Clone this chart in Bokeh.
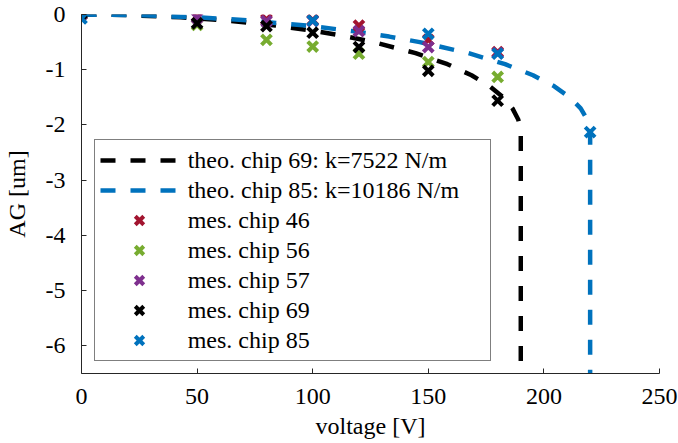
from bokeh.plotting import figure
from bokeh.models import Legend, LegendItem, FixedTicker, Range1d, CustomJSTickFormatter
from bokeh.embed import file_html
from bokeh.resources import INLINE

# theoretical curves
theo69_v = [0, 19.3, 43, 60.3, 83.9, 101.2, 114.9, 126.4, 144.5, 158.3, 168.7, 176.6, 182.4, 186.4, 188.9, 189.8, 190, 190]
theo69_ag = [0, -0.01, -0.05, -0.1, -0.2, -0.3, -0.4, -0.5, -0.7, -0.9, -1.1, -1.3, -1.5, -1.7, -1.9, -2.05, -2.17, -6.5]
theo85_v = [0, 22.4, 49.7, 69.8, 97.2, 117.1, 133.1, 146.3, 167.4, 183.2, 195.3, 204.5, 211.2, 215.9, 218.7, 219.8, 220, 220]
theo85_ag = [0, -0.01, -0.05, -0.1, -0.2, -0.3, -0.4, -0.5, -0.7, -0.9, -1.1, -1.3, -1.5, -1.7, -1.9, -2.05, -2.17, -6.5]

# measurements
chip46_v = [0, 50, 80, 100, 120, 150, 180]
chip46_ag = [0, -0.03, -0.09, -0.1, -0.2, -0.46, -0.68]
chip56_v = [0, 50, 80, 100, 120, 150, 180]
chip56_ag = [0, -0.19, -0.46, -0.58, -0.71, -0.86, -1.13]
chip57_v = [0, 50, 80, 100, 120, 150, 180]
chip57_ag = [0, -0.06, -0.12, -0.12, -0.3, -0.59, -0.7]
chip69_v = [0, 50, 80, 100, 120, 150, 180]
chip69_ag = [0.02, -0.16, -0.21, -0.33, -0.59, -1.02, -1.56]
chip85_v = [0, 100, 150, 180, 220]
chip85_ag = [-0.07, -0.11, -0.35, -0.71, -2.13]

x_ticks = [0, 50, 100, 150, 200, 250]
y_ticks = [-6, -5, -4, -3, -2, -1, 0]

FONT = "Liberation Serif"
FS = "24px"
AXC = "#262626"

p = figure(width=678, height=441, output_backend="svg", toolbar_location=None,
           x_range=Range1d(0, 250), y_range=Range1d(-6.5, 0),
           min_border_left=78, min_border_right=19, min_border_top=14, min_border_bottom=68)
p.xgrid.visible = False
p.ygrid.visible = False
p.outline_line_color = None
p.background_fill_color = "white"
p.border_fill_color = "white"

for ax in (p.xaxis[0], p.yaxis[0]):
    ax.axis_line_color = AXC
    ax.axis_line_width = 1
    ax.major_tick_line_color = AXC
    ax.major_tick_in = 5
    ax.major_tick_out = 0
    ax.minor_tick_line_color = None
    ax.major_label_text_font = FONT
    ax.major_label_text_font_size = FS
    ax.major_label_text_color = "black"
    ax.axis_label_text_font = FONT
    ax.axis_label_text_font_size = FS
    ax.axis_label_text_font_style = "normal"
    ax.axis_label_text_color = "black"
    ax.formatter = CustomJSTickFormatter(code="return tick.toString();")

p.xaxis.ticker = FixedTicker(ticks=x_ticks)
p.yaxis.ticker = FixedTicker(ticks=y_ticks)
p.xaxis.axis_label = "voltage [V]"
p.yaxis.axis_label = "AG [um]"
p.xaxis.major_label_standoff = 15
p.xaxis.axis_label_standoff = 6
p.yaxis.major_label_standoff = 16
p.yaxis.axis_label_standoff = 13

DASH = "15 15"
l69 = p.line(theo69_v, theo69_ag, line_color="black", line_width=4.5, line_dash=DASH)
l85 = p.line(theo85_v, theo85_ag, line_color="#0072BD", line_width=4.5, line_dash=DASH)

MS = 14
MLW = 4
m46 = p.scatter(chip46_v, chip46_ag, marker="x", size=MS, line_width=MLW, line_color="#A2142F")
m56 = p.scatter(chip56_v, chip56_ag, marker="x", size=MS, line_width=MLW, line_color="#77AC30")
m57 = p.scatter(chip57_v, chip57_ag, marker="x", size=MS, line_width=MLW, line_color="#7E2F8E")
m69 = p.scatter(chip69_v, chip69_ag, marker="x", size=MS, line_width=MLW, line_color="black")
m85 = p.scatter(chip85_v, chip85_ag, marker="x", size=MS, line_width=MLW, line_color="#0072BD")

legend = Legend(items=[
    LegendItem(label="theo. chip 69: k=7522 N/m", renderers=[l69]),
    LegendItem(label="theo. chip 85: k=10186 N/m", renderers=[l85]),
    LegendItem(label="mes. chip 46", renderers=[m46]),
    LegendItem(label="mes. chip 56", renderers=[m56]),
    LegendItem(label="mes. chip 57", renderers=[m57]),
    LegendItem(label="mes. chip 69", renderers=[m69]),
    LegendItem(label="mes. chip 85", renderers=[m85]),
], location=(12.7, 12), margin=0, padding=5, spacing=0,
   label_height=30, glyph_height=30, glyph_width=78, label_standoff=10, label_width=297,
   label_text_font=FONT, label_text_font_size=FS, label_text_color="black",
   border_line_color="black", border_line_width=1.2, background_fill_alpha=1.0)
p.add_layout(legend)

open("out.html", "w").write(file_html(p, INLINE))
